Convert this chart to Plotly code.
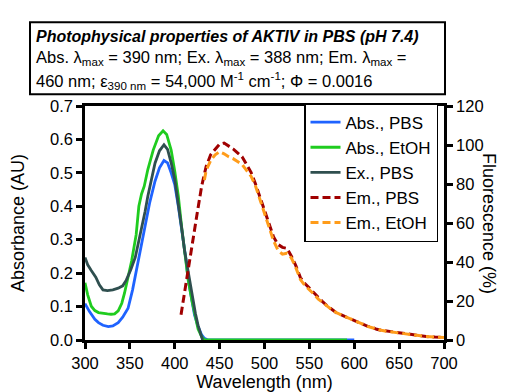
import plotly.graph_objects as go

# ---------------- data ----------------
abs_pbs_nm = [300, 305, 311, 315, 320, 326, 331, 337, 342, 348, 353, 359, 363, 367, 372, 378, 383, 388, 392, 396, 400, 404, 408, 412, 415, 419, 422, 426, 430, 433, 437, 445, 600]
abs_pbs_a = [0.109, 0.085, 0.062, 0.052, 0.044, 0.040, 0.042, 0.052, 0.068, 0.095, 0.150, 0.235, 0.290, 0.340, 0.410, 0.475, 0.515, 0.537, 0.530, 0.500, 0.465, 0.400, 0.330, 0.250, 0.180, 0.120, 0.075, 0.040, 0.015, 0.005, 0.0, 0.0, 0.0]

abs_etoh_nm = [300, 303, 307, 311, 315, 320, 325, 329, 333, 337, 341, 344, 348, 352, 357, 360, 363, 366, 370, 376, 382, 387, 391, 396, 400, 404, 408, 411, 415, 419, 423, 426, 430, 433, 440, 592]
abs_etoh_a = [0.171, 0.135, 0.101, 0.088, 0.082, 0.079, 0.078, 0.077, 0.078, 0.087, 0.110, 0.140, 0.185, 0.237, 0.315, 0.400, 0.437, 0.460, 0.510, 0.568, 0.611, 0.626, 0.615, 0.568, 0.505, 0.430, 0.330, 0.257, 0.180, 0.120, 0.065, 0.033, 0.010, 0.0, 0.0, 0.0]

ex_pbs_nm = [300, 303, 307, 312, 316, 320, 325, 331, 337, 342, 346, 351, 356, 360, 363, 367, 370, 374, 378, 383, 388, 392, 396, 400, 404, 408, 411, 415, 419, 423, 426, 429, 431]
ex_pbs_a = [0.247, 0.225, 0.208, 0.188, 0.165, 0.150, 0.148, 0.150, 0.155, 0.162, 0.179, 0.210, 0.247, 0.295, 0.334, 0.385, 0.430, 0.480, 0.529, 0.566, 0.584, 0.570, 0.530, 0.480, 0.410, 0.330, 0.266, 0.200, 0.140, 0.080, 0.044, 0.015, 0.0]

em_pbs_nm = [407, 410, 415, 420, 425, 430, 435, 440, 445, 450, 455, 460, 465, 470, 475, 480, 485, 490, 495, 500, 505, 510, 515, 520, 525, 530, 535, 540, 545, 550, 555, 560, 565, 570, 575, 580, 585, 590, 595, 600, 605, 610, 615, 620, 625, 630, 640, 650, 660, 670, 680, 690, 700]
em_pbs_f = [13, 22, 36, 50, 65, 79, 89, 95, 98, 100.5, 101, 99.5, 98, 96, 94, 90, 86, 80, 73, 66, 59, 53, 49, 47.5, 47, 43, 38, 32, 29, 26.5, 24, 21.5, 19.5, 17.5, 15.5, 14, 13, 12, 11, 10, 9, 8, 7, 6.5, 5.5, 5, 4.3, 3.6, 3, 2.5, 1.8, 1.5, 1.3]

em_etoh_nm = [433, 435, 440, 445, 450, 455, 460, 465, 470, 475, 480, 485, 490, 495, 500, 505, 510, 515, 520, 525, 530, 535, 540, 545, 550, 555, 560, 565, 570, 575, 580, 585, 590, 595, 600, 605, 610, 615, 620, 625, 630, 640, 650, 660, 670, 680, 690, 700]
em_etoh_f = [82, 87, 92, 95, 96.5, 95.5, 94, 93, 91.5, 90, 87, 84, 79, 72, 65, 58, 51, 46, 44, 44.5, 42, 37, 31, 28, 26, 23.5, 21, 19, 17, 15.5, 14, 13, 12, 10.8, 9.8, 9, 8, 7, 6.3, 5.5, 5, 4.2, 3.5, 3, 2.4, 1.8, 1.5, 1.3]

x_ticks = [300, 350, 400, 450, 500, 550, 600, 650, 700]
y1_ticks = [0.0, 0.1, 0.2, 0.3, 0.4, 0.5, 0.6, 0.7]
y2_ticks = [0, 20, 40, 60, 80, 100, 120]

FONT = "Liberation Sans, Arial, Helvetica, sans-serif"

fig = go.Figure()
fig.add_trace(go.Scatter(x=abs_pbs_nm, y=abs_pbs_a, mode="lines", name="Abs., PBS",
                         line=dict(color="#1f63ff", width=2.8)))
fig.add_trace(go.Scatter(x=abs_etoh_nm, y=abs_etoh_a, mode="lines", name="Abs., EtOH",
                         line=dict(color="#1fcc1f", width=2.8)))
fig.add_trace(go.Scatter(x=ex_pbs_nm, y=ex_pbs_a, mode="lines", name="Ex., PBS",
                         line=dict(color="#2f4f4f", width=2.8)))
fig.add_trace(go.Scatter(x=em_pbs_nm, y=em_pbs_f, mode="lines", name="Em., PBS", yaxis="y2",
                         line=dict(color="#a00000", width=3, dash="8px,4px")))
fig.add_trace(go.Scatter(x=em_etoh_nm, y=em_etoh_f, mode="lines", name="Em., EtOH", yaxis="y2",
                         line=dict(color="#ff9c1a", width=3, dash="8px,4px")))

L, R, T, B = 77, 69, 98, 54
W, H = 505, 392
pw, ph = W - L - R, H - T - B

def px_x(p):
    return (p - L) / pw

def px_y(p):
    return (H - B - p) / ph

axis_common = dict(showline=True, linecolor="black", linewidth=2.5, ticks="outside",
                   ticklen=6, tickwidth=2.5, tickcolor="black", showgrid=False, zeroline=False,
                   tickfont=dict(family=FONT, size=16.5, color="black"))

fig.update_layout(
    width=W, height=H,
    margin=dict(l=L, r=R, t=T, b=B),
    paper_bgcolor="white", plot_bgcolor="white",
    font=dict(family=FONT, color="black"),
    xaxis=dict(range=[300, 700], tickvals=x_ticks, ticktext=[str(v) for v in x_ticks], mirror=True,
               title=dict(text="Wavelength (nm)", font=dict(family=FONT, size=18), standoff=4),
               **axis_common),
    yaxis=dict(range=[0, 0.7], tickvals=y1_ticks, ticktext=["%.1f" % v for v in y1_ticks],
               **axis_common),
    yaxis2=dict(range=[0, 120], tickvals=y2_ticks, ticktext=[str(v) for v in y2_ticks],
                overlaying="y", side="right",
                **axis_common),
    legend=dict(x=px_x(430), y=px_y(95), xanchor="right", yanchor="top",
                bordercolor="black", borderwidth=1.5, bgcolor="white", itemwidth=30,
                font=dict(family=FONT, size=17, color="black"), tracegroupgap=0),
    showlegend=True,
)

# y-axis titles
fig.add_annotation(text="Absorbance (AU)", xref="paper", yref="paper", x=px_x(10), y=px_y(218),
                   xanchor="center", yanchor="middle", textangle=-90, showarrow=False,
                   font=dict(family=FONT, size=18, color="black"))
fig.add_annotation(text="Fluorescence (%)", xref="paper", yref="paper", x=px_x(481), y=px_y(218),
                   xanchor="center", yanchor="middle", textangle=90, showarrow=False,
                   font=dict(family=FONT, size=18, color="black"))

# title box
fig.add_shape(type="rect", xref="paper", yref="paper",
              x0=px_x(22), x1=px_x(437), y0=px_y(86), y1=px_y(12),
              line=dict(color="black", width=2), fillcolor="white", layer="above")
lines = [
    ("<b><i>Photophysical properties of AKTIV in PBS (pH 7.4)</i></b>", 27, 16),
    ("Abs. λ<sub>max</sub> = 390 nm; Ex. λ<sub>max</sub> = 388 nm; Em. λ<sub>max</sub> =", 49, 16.5),
    ("460 nm; ε<sub>390 nm</sub> = 54,000 M<sup>-1</sup> cm<sup>-1</sup>; Φ = 0.0016", 72, 16.5),
]
for txt, yc, fs in lines:
    fig.add_annotation(text=txt, xref="paper", yref="paper", x=px_x(26), y=px_y(yc),
                       xanchor="left", yanchor="middle", showarrow=False, align="left",
                       font=dict(family=FONT, size=fs, color="black"))

fig.write_html("out.html")
